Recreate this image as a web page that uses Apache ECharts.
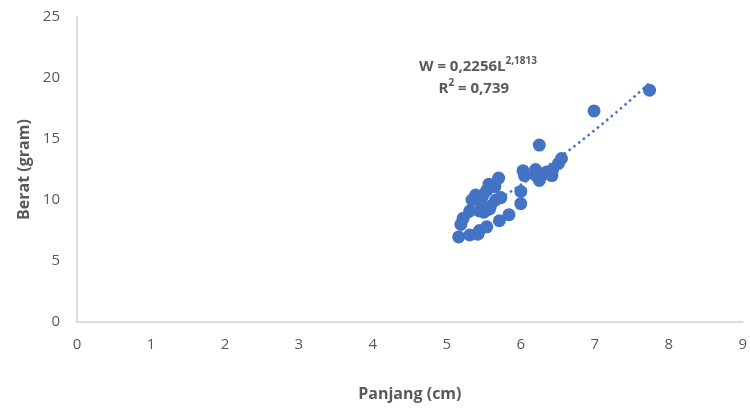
<!DOCTYPE html>
<html>
<head>
<meta charset="utf-8">
<script src="https://cdn.jsdelivr.net/npm/echarts@6/dist/echarts.min.js"></script>
<style>html,body{margin:0;padding:0;background:#fff}#c{width:750px;height:411px}</style>
</head>
<body>
<div id="c"></div>
<script>
// Panjang (cm)
const panjang = [5.16,5.31,5.42,5.44,5.54,5.19,5.22,5.71,5.84,5.31,5.44,5.55,5.59,5.34,5.46,5.39,5.49,5.54,5.65,5.57,5.70,5.66,5.73,5.50,5.58,
  6.00,6.00,6.03,6.05,6.20,6.21,6.25,6.30,6.35,6.42,6.43,6.51,6.55,6.25,6.99,7.74];
// Berat (gram)
const berat = [6.97,7.13,7.20,7.50,7.80,8.00,8.50,8.30,8.80,9.10,9.10,9.20,9.50,10.00,9.80,10.40,10.40,10.80,11.10,11.30,11.80,10.00,10.20,9.00,9.30,
  10.70,9.70,12.40,12.00,12.50,12.00,11.60,12.10,12.30,12.00,12.50,13.00,13.40,14.50,17.30,19.00];
const xTicks = [0,1,2,3,4,5,6,7,8,9];
const yTicks = [0,5,10,15,20,25];
// Power trendline coefficients shown on the chart: W = a * L^b
const trendA = 0.2256, trendB = 2.1813;
const trendFrom = 5.16, trendTo = 7.74;

const pts = panjang.map((x,i)=>[x, berat[i]]);
const trend = [];
for (let k=0;k<=40;k++){ const L = trendFrom + (trendTo-trendFrom)*k/40; trend.push([L, trendA*Math.pow(L,trendB)]); }

const font = '"Open Sans", "Liberation Sans", sans-serif';
const chart = echarts.init(document.getElementById('c'));
chart.setOption({
  animation:false,
  backgroundColor:'#fff',
  grid:{left:77,right:5,top:17,bottom:89},
  xAxis:{type:'value',min:0,max:9,interval:1,
    axisLine:{show:true,lineStyle:{color:'#d0d0d0',width:1.5}},
    axisTick:{show:false},splitLine:{show:false},
    axisLabel:{color:'#595959',fontSize:15,fontFamily:font,margin:15},
    name:'Panjang (cm)',nameLocation:'middle',nameGap:64,
    nameTextStyle:{color:'#595959',fontSize:16,fontWeight:'bold',fontFamily:font}},
  yAxis:{type:'value',min:0,max:25,interval:5,
    axisLine:{show:true,lineStyle:{color:'#d0d0d0',width:1.5}},
    axisTick:{show:false},splitLine:{show:false},
    axisLabel:{color:'#595959',fontSize:15,fontFamily:font,margin:17},
    name:'Berat (gram)',nameLocation:'middle',nameGap:42,
    nameTextStyle:{color:'#595959',fontSize:16,fontWeight:'bold',fontFamily:font}},
  series:[
    {type:'line',data:trend,showSymbol:false,symbol:'none',smooth:false,
      lineStyle:{color:'#4472C4',width:2.5,type:[2.5,3.5]},z:1,silent:true},
    {type:'scatter',data:pts,symbolSize:13,itemStyle:{color:'#4472C4',opacity:1},z:2}
  ],
  graphic:[{type:'text',left:419,top:56,z:10,style:{
    text:'{b|W = 0,2256L}{s|2,1813}\n{b|     R}{s|2}{b| = 0,739}',
    rich:{b:{fontSize:15,fontWeight:'bold',fill:'#595959',fontFamily:font,lineHeight:22},
          s:{fontSize:10,fontWeight:'bold',fill:'#595959',fontFamily:font,verticalAlign:'top',lineHeight:22,padding:[0,0,7,0]}}
  }}]
});
</script>
</body>
</html>
